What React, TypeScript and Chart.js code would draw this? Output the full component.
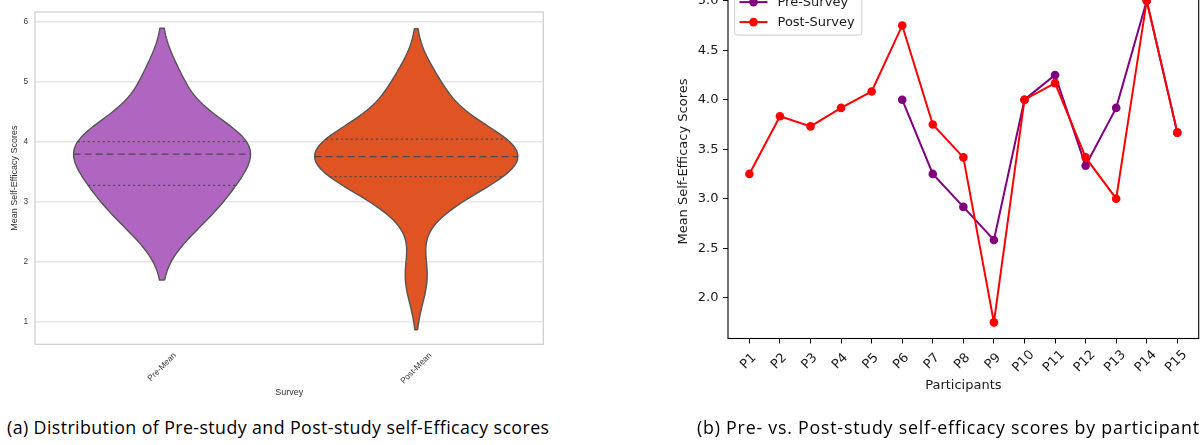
import React, { useEffect, useRef } from "react";
import { Chart, registerables } from "chart.js";

Chart.register(...registerables);

// ---------------- data ----------------
const participants = ["P1", "P2", "P3", "P4", "P5", "P6", "P7", "P8", "P9", "P10", "P11", "P12", "P13", "P14", "P15"];
const preScores: (number | null)[] = [null, null, null, null, null, 4.0, 3.25, 2.917, 2.583, 4.0, 4.25, 3.333, 3.917, 5.0, 3.667];
const postScores: number[] = [3.25, 3.833, 3.73, 3.917, 4.083, 4.75, 3.75, 3.417, 1.75, 4.0, 4.167, 3.417, 3.0, 5.0, 3.667];
const surveyCategories = ["Pre-Mean", "Post-Mean"];
const violinYTicks = [1, 2, 3, 4, 5, 6];
const lineYTicks = [2.0, 2.5, 3.0, 3.5, 4.0, 4.5, 5.0];
const seriesLabels = ["Pre-Survey", "Post-Survey"];
const captions = [
  "(a) Distribution of Pre-study and Post-study self-Efficacy scores",
  "(b) Pre- vs. Post-study self-efficacy scores by participant",
];

// ---------------- styles ----------------
const PRE_VIOLIN = "#b065c1";
const POST_VIOLIN = "#e05423";
const PRE_LINE = "#800080";
const POST_LINE = "#ff0000";
const SNS_FONT = "'Liberation Sans', Arial, sans-serif";
const MPL_FONT = "'DejaVu Sans', sans-serif";

// ---------------- helpers (KDE like seaborn / scipy scott) ----------------
function kde(values: number[]) {
  const n = values.length;
  const mean = values.reduce((a, b) => a + b, 0) / n;
  const sd = Math.sqrt(values.reduce((a, b) => a + (b - mean) ** 2, 0) / (n - 1));
  const bw = sd * Math.pow(n, -0.2);
  const lo = Math.min(...values) - 2 * bw;
  const hi = Math.max(...values) + 2 * bw;
  const dens = (y: number) =>
    values.reduce((s, v) => s + Math.exp(-0.5 * ((y - v) / bw) ** 2), 0) / (n * bw * Math.sqrt(2 * Math.PI));
  const grid: { y: number; d: number }[] = [];
  for (let i = 0; i < 100; i++) {
    const y = lo + ((hi - lo) * i) / 99;
    grid.push({ y, d: dens(y) });
  }
  return { grid, dens };
}

function percentile(vals: number[], p: number) {
  const s = [...vals].sort((a, b) => a - b);
  const idx = p * (s.length - 1);
  const lo = Math.floor(idx);
  const hi = Math.ceil(idx);
  return s[lo] + (s[hi] - s[lo]) * (idx - lo);
}

function buildViolinDatasets() {
  const groups = [
    preScores.filter((v): v is number => v !== null),
    postScores,
  ];
  const colors = [PRE_VIOLIN, POST_VIOLIN];
  const kdes = groups.map(kde);
  const maxD = Math.max(...kdes.map((k) => Math.max(...k.grid.map((g) => g.d))));
  const half = 0.4;
  const datasets: any[] = [];
  kdes.forEach((k, c) => {
    const right = k.grid.map((g) => ({ x: c + (half * g.d) / maxD, y: g.y }));
    const left = k.grid
      .slice()
      .reverse()
      .map((g) => ({ x: c - (half * g.d) / maxD, y: g.y }));
    const poly = [...right, ...left, right[0]];
    datasets.push({
      label: surveyCategories[c],
      data: poly,
      fill: "shape",
      backgroundColor: colors[c],
      borderColor: "#555555",
      borderWidth: 1.4,
      pointRadius: 0,
      pointHitRadius: 0,
      tension: 0.0001,
      borderJoinStyle: "round",
      order: 5,
    });
    const qs = [0.25, 0.5, 0.75];
    qs.forEach((p) => {
      const q = percentile(groups[c], p);
      const w = (half * k.dens(q)) / maxD;
      datasets.push({
        label: `${surveyCategories[c]} q${p}`,
        data: [
          { x: c - w, y: q },
          { x: c + w, y: q },
        ],
        fill: false,
        borderColor: "#4a4a4a",
        borderWidth: 1.3,
        borderDash: p === 0.5 ? [7, 4] : [2, 3],
        pointRadius: 0,
        pointHitRadius: 0,
        order: 1,
      });
    });
  });
  return datasets;
}

// ---------------- plugins ----------------
const violinPlugin = {
  id: "violinDecor",
  afterDraw(chart: any) {
    const { ctx, chartArea: ca } = chart;
    ctx.save();
    ctx.strokeStyle = "#d0d0d0";
    ctx.lineWidth = 1.3;
    ctx.strokeRect(ca.left, ca.top, ca.right - ca.left, ca.bottom - ca.top);
    const xs = chart.scales.x;
    ctx.font = `8.3px ${SNS_FONT}`;
    ctx.fillStyle = "#3a3a3a";
    ctx.textAlign = "center";
    ctx.textBaseline = "middle";
    surveyCategories.forEach((lab, i) => {
      const px = xs.getPixelForValue(i);
      const w = ctx.measureText(lab).width;
      const cy = 352 + ((w + 6) * Math.SQRT1_2) / 2;
      ctx.save();
      ctx.translate(px, cy);
      ctx.rotate(-Math.PI / 4);
      ctx.fillText(lab, 0, 0);
      ctx.restore();
    });
    ctx.restore();
  },
};

const linePlugin = {
  id: "lineDecor",
  afterDraw(chart: any) {
    const { ctx, chartArea: ca } = chart;
    ctx.save();
    // frame
    ctx.strokeStyle = "#000";
    ctx.lineWidth = 1.1;
    ctx.strokeRect(ca.left, ca.top, ca.right - ca.left, ca.bottom - ca.top);
    // x tick labels (rotated, centred)
    const xs = chart.scales.x;
    ctx.font = `13px ${MPL_FONT}`;
    ctx.fillStyle = "#1a1a1a";
    ctx.textAlign = "center";
    ctx.textBaseline = "middle";
    participants.forEach((lab, i) => {
      const px = xs.getPixelForValue(i);
      ctx.save();
      ctx.translate(px - 1, ca.bottom + 23);
      ctx.rotate(-Math.PI / 4);
      ctx.fillText(lab, 0, 0);
      ctx.restore();
    });
    // legend inside axes (upper left)
    const lx = ca.left + 6.5;
    const ly = ca.top + 6.5;
    const lw = 127.4;
    const lh = 44;
    ctx.beginPath();
    ctx.roundRect(lx, ly, lw, lh, 3);
    ctx.fillStyle = "rgba(255,255,255,0.8)";
    ctx.fill();
    ctx.strokeStyle = "#cccccc";
    ctx.lineWidth = 1;
    ctx.stroke();
    const ds = chart.data.datasets;
    ds.forEach((d: any, i: number) => {
      const ry = ly + 11 + i * 20;
      ctx.strokeStyle = d.borderColor;
      ctx.lineWidth = 2;
      ctx.beginPath();
      ctx.moveTo(lx + 5, ry);
      ctx.lineTo(lx + 33, ry);
      ctx.stroke();
      ctx.fillStyle = d.backgroundColor;
      ctx.beginPath();
      ctx.arc(lx + 19, ry, 4.3, 0, Math.PI * 2);
      ctx.fill();
      ctx.fillStyle = "#1a1a1a";
      ctx.textAlign = "left";
      ctx.textBaseline = "middle";
      ctx.font = `13px ${MPL_FONT}`;
      ctx.fillText(d.label, lx + 43, ry + 0.5);
    });
    ctx.restore();
  },
};

// ---------------- components ----------------
function ViolinChart() {
  const ref = useRef<HTMLCanvasElement>(null);
  useEffect(() => {
    if (!ref.current) return;
    const chart = new Chart(ref.current, {
      type: "line",
      data: { datasets: buildViolinDatasets() },
      options: {
        animation: false,
        responsive: false,
        maintainAspectRatio: false,
        devicePixelRatio: 1,
        layout: { padding: { left: 0, top: 6, right: 16.7, bottom: 0 } },
        plugins: { legend: { display: false }, tooltip: { enabled: false } },
        scales: {
          x: {
            type: "linear",
            min: -0.5,
            max: 1.5,
            afterBuildTicks: (s: any) => {
              s.ticks = surveyCategories.map((_, i) => ({ value: i }));
            },
            afterFit: (s: any) => {
              s.height = 405 - 344.3;
            },
            ticks: { display: false },
            grid: { display: false },
            border: { display: false },
            title: {
              display: true,
              text: "Survey",
              color: "#333",
              font: { family: SNS_FONT, size: 9 },
              padding: { top: 0, bottom: 6.6 },
            },
          },
          y: {
            type: "linear",
            min: 0.63,
            max: 6.155,
            afterBuildTicks: (s: any) => {
              s.ticks = violinYTicks.map((v) => ({ value: v }));
            },
            afterFit: (s: any) => {
              s.width = 35;
            },
            ticks: {
              color: "#3a3a3a",
              font: { family: SNS_FONT, size: 8.3 },
              padding: 7,
              callback: (v: any) => String(v),
            },
            grid: { color: "#e6e6e6", lineWidth: 1.5, drawTicks: false },
            border: { display: false },
            title: {
              display: true,
              text: "Mean Self-Efficacy Scores",
              color: "#333",
              font: { family: SNS_FONT, size: 9 },
              padding: { top: 9.6, bottom: 0 },
            },
          },
        },
      } as any,
      plugins: [violinPlugin],
    });
    return () => chart.destroy();
  }, []);
  return (
    <canvas
      ref={ref}
      width={560}
      height={405}
      style={{ position: "absolute", left: 0, top: 0, width: 560, height: 405 }}
    />
  );
}

function LineChart() {
  const ref = useRef<HTMLCanvasElement>(null);
  useEffect(() => {
    if (!ref.current) return;
    const chart = new Chart(ref.current, {
      type: "line",
      data: {
        datasets: [
          {
            label: seriesLabels[0],
            data: preScores.map((v, i) => ({ x: i, y: v })),
            borderColor: PRE_LINE,
            backgroundColor: PRE_LINE,
            borderWidth: 2,
            pointRadius: 4.3,
            pointBorderWidth: 0,
            pointBackgroundColor: PRE_LINE,
            tension: 0,
            fill: false,
            order: 1,
          },
          {
            label: seriesLabels[1],
            data: postScores.map((v, i) => ({ x: i, y: v })),
            borderColor: POST_LINE,
            backgroundColor: POST_LINE,
            borderWidth: 2,
            pointRadius: 4.3,
            pointBorderWidth: 0,
            pointBackgroundColor: POST_LINE,
            tension: 0,
            fill: false,
            order: 0,
          },
        ],
      },
      options: {
        animation: false,
        responsive: false,
        maintainAspectRatio: false,
        devicePixelRatio: 1,
        layout: { padding: { left: 0, top: 14.6, right: 1.3, bottom: 0 } },
        plugins: { legend: { display: false }, tooltip: { enabled: false } },
        scales: {
          x: {
            type: "linear",
            min: -0.7,
            max: 14.7,
            afterBuildTicks: (s: any) => {
              s.ticks = participants.map((_, i) => ({ value: i }));
            },
            afterFit: (s: any) => {
              s.height = 475 - 368.5;
            },
            ticks: { display: false },
            grid: { drawOnChartArea: false, drawTicks: true, tickLength: 5, color: "#000", lineWidth: 1 },
            border: { display: false },
            title: {
              display: true,
              text: "Participants",
              color: "#1a1a1a",
              font: { family: MPL_FONT, size: 13 },
              padding: { top: 0, bottom: 51.5 },
            },
          },
          y: {
            type: "linear",
            min: 1.5875,
            max: 5.1625,
            afterBuildTicks: (s: any) => {
              s.ticks = lineYTicks.map((v) => ({ value: v }));
            },
            afterFit: (s: any) => {
              s.width = 88;
            },
            ticks: {
              color: "#1a1a1a",
              font: { family: MPL_FONT, size: 13 },
              padding: 4.5,
              callback: (v: any) => Number(v).toFixed(1),
            },
            grid: { drawOnChartArea: false, drawTicks: true, tickLength: 5, color: "#000", lineWidth: 1 },
            border: { display: false },
            title: {
              display: true,
              text: "Mean Self-Efficacy Scores",
              color: "#1a1a1a",
              font: { family: MPL_FONT, size: 13 },
              padding: { top: 36.2, bottom: 0 },
            },
          },
        },
      } as any,
      plugins: [linePlugin],
    });
    return () => chart.destroy();
  }, []);
  return (
    <canvas
      ref={ref}
      width={563}
      height={475}
      style={{ position: "absolute", left: 640, top: -30, width: 563, height: 475 }}
    />
  );
}

function Caption({ text, left, width }: { text: string; left: number; width: number }) {
  const ref = useRef<HTMLSpanElement>(null);
  useEffect(() => {
    const el = ref.current;
    if (!el) return;
    el.style.letterSpacing = "0px";
    const w = el.getBoundingClientRect().width;
    const ls = (width - w) / Math.max(1, text.length - 1);
    el.style.letterSpacing = `${ls}px`;
  }, [text, width]);
  return (
    <span
      ref={ref}
      style={{
        position: "absolute",
        left,
        top: 417.4,
        fontFamily: "'Open Sans', Lato, sans-serif",
        fontSize: 17.8,
        lineHeight: "20px",
        color: "#000",
        whiteSpace: "nowrap",
      }}
    >
      {text}
    </span>
  );
}

export default function App() {
  return (
    <div
      style={{
        position: "absolute",
        left: 0,
        top: 0,
        width: 1203,
        height: 445,
        overflow: "hidden",
        background: "#fff",
      }}
    >
      <ViolinChart />
      <LineChart />
      <Caption text={captions[0]} left={7} width={542} />
      <Caption text={captions[1]} left={697} width={502} />
    </div>
  );
}
